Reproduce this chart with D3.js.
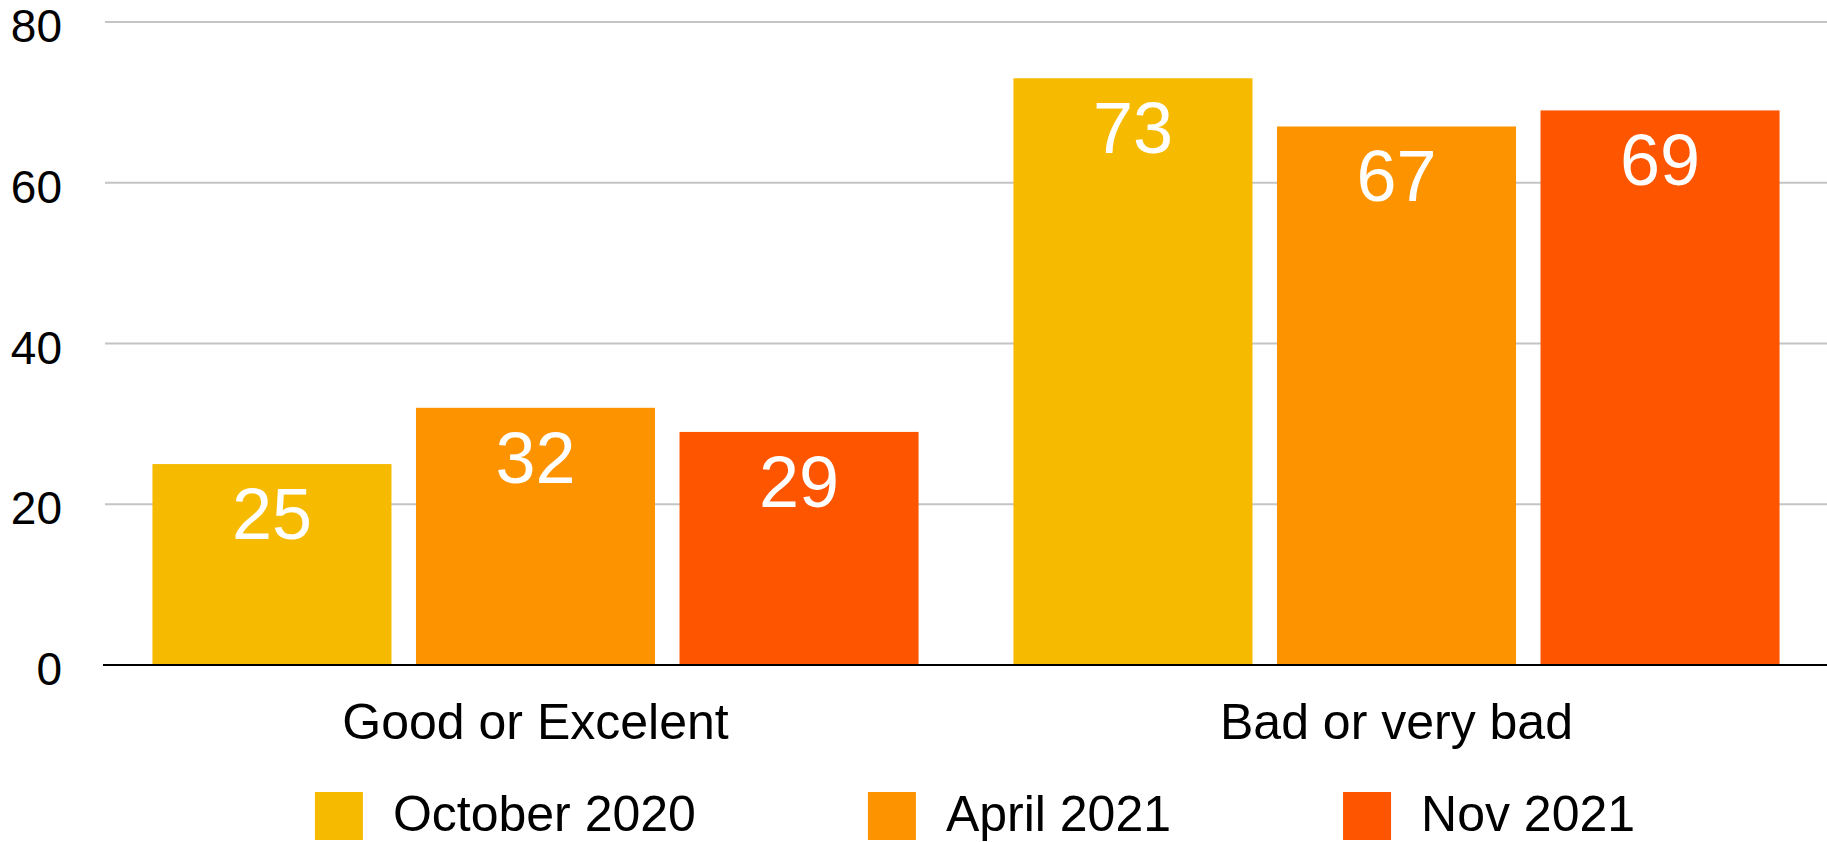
<!DOCTYPE html>
<html>
<head>
<meta charset="utf-8">
<script src="https://cdn.jsdelivr.net/npm/d3@7"></script>
<style>
  body { margin: 0; background: #fff; }
  svg text { font-family: "Liberation Sans", Arial, Helvetica, sans-serif; }
</style>
</head>
<body>
<div class="container"></div>
<script>
var categories = ['Good or Excelent', 'Bad or very bad'];
var seriesNames = ['October 2020', 'April 2021', 'Nov 2021'];
var october2020 = [25, 73];
var april2021 = [32, 67];
var nov2021 = [29, 69];
var yTicks = [0, 20, 40, 60, 80];
var colors = ['#F6BB00', '#FE9300', '#FE5500'];

var w = 1827,
h = 842;

var allSeries = [october2020, april2021, nov2021];

var Graphic = d3.select('.container')
.append('svg')
.attr('width', w)
.attr('height', h);

var xScale = d3.scaleBand()
.domain(categories)
.range([105, w])
.padding(0);

var inner = d3.scaleBand()
.domain(seriesNames)
.range([0, xScale.bandwidth()])
.paddingInner(0.093)
.paddingOuter(0.18);

var yScale = d3.scaleLinear()
.domain([0, 80])
.range([665, 22]);

// gridlines
Graphic.append('g')
.selectAll('line')
.data(yTicks.filter(d => d > 0))
.enter()
.append('line')
.attr('x1', 105)
.attr('x2', w)
.attr('y1', d => yScale(d))
.attr('y2', d => yScale(d))
.style('stroke', '#c4c4c4')
.style('stroke-width', 2);

// y tick labels
Graphic.append('g')
.selectAll('text')
.data(yTicks)
.enter()
.append('text')
.attr('x', 62)
.attr('y', d => yScale(d) + 20)
.attr('text-anchor', 'end')
.style('font-size', '46px')
.style('fill', '#000')
.text(d => d);

// bars
var rows = [];
categories.forEach(function(c, ci) {
  seriesNames.forEach(function(s, si) {
    rows.push({cat: c, series: s, si: si, value: allSeries[si][ci]});
  });
});

var bars = Graphic.append('g');

bars.selectAll('rect')
.data(rows)
.enter()
.append('rect')
.attr('class', 'bar')
.attr('x', d => xScale(d.cat) + inner(d.series))
.attr('y', d => yScale(d.value))
.attr('width', inner.bandwidth())
.attr('height', d => yScale(0) - yScale(d.value))
.style('fill', d => colors[d.si]);

bars.selectAll('text')
.data(rows)
.enter()
.append('text')
.attr('x', d => xScale(d.cat) + inner(d.series) + inner.bandwidth() / 2)
.attr('y', d => yScale(d.value) + 75)
.attr('text-anchor', 'middle')
.style('font-size', '72px')
.style('fill', '#fff')
.text(d => d.value);

// x axis line
Graphic.append('line')
.attr('x1', 103)
.attr('x2', w)
.attr('y1', yScale(0))
.attr('y2', yScale(0))
.style('stroke', '#000')
.style('stroke-width', 2);

// category labels
Graphic.append('g')
.selectAll('text')
.data(categories)
.enter()
.append('text')
.attr('x', d => xScale(d) + xScale.bandwidth() / 2)
.attr('y', 739)
.attr('text-anchor', 'middle')
.style('font-size', '50px')
.style('fill', '#000')
.text(d => d);

// legend
var legend = Graphic.append('g');
var items = legend.selectAll('g')
.data(seriesNames)
.enter()
.append('g');

items.append('rect')
.attr('width', 48)
.attr('height', 48)
.attr('y', 792)
.style('fill', (d, i) => colors[i]);

items.append('text')
.attr('x', 78)
.attr('y', 831)
.style('font-size', '50px')
.style('fill', '#000')
.text(d => d);

var widths = [];
items.each(function() {
  widths.push(78 + d3.select(this).select('text').node().getComputedTextLength());
});
var gap = 172;
var total = d3.sum(widths) + gap * (widths.length - 1);
var start = (105 + w) / 2 - total / 2 + 9;
var pos = start;
items.attr('transform', function(d, i) {
  var t = 'translate(' + pos + ',0)';
  pos += widths[i] + gap;
  return t;
});
</script>
</body>
</html>
